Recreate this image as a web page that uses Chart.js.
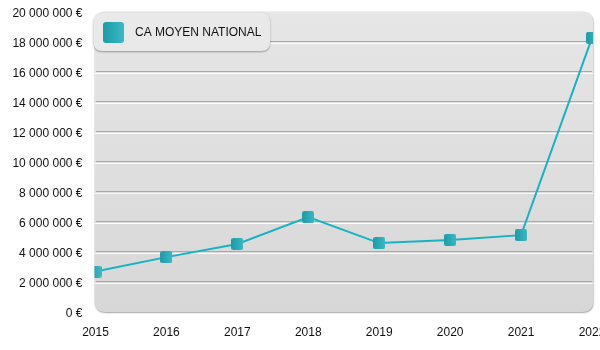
<!DOCTYPE html>
<html>
<head>
<meta charset="utf-8">
<script src="https://cdn.jsdelivr.net/npm/chart.js@4"></script>
<style>
  html, body { margin: 0; padding: 0; background: #fff; overflow: hidden; }
  #wrap { width: 600px; height: 350px; }
</style>
</head>
<body>
<div id="wrap"><canvas id="caChart"></canvas></div>
<script>
var annees = ['2015', '2016', '2017', '2018', '2019', '2020', '2021', '2022'];
var caMoyen = [2670000, 3630000, 4510000, 6310000, 4570000, 4780000, 5100000, 18270000];
var serieLabel = 'CA MOYEN NATIONAL';
var yMax = 20000000;
var yStep = 2000000;

var FONT = '"Liberation Sans", Arial, sans-serif';

function formatEuro(v) {
    return String(Math.round(v)).replace(/\B(?=(\d{3})+(?!\d))/g, ' ') + ' €';
}

function roundRect(ctx, x, y, w, h, r) {
    ctx.beginPath();
    ctx.moveTo(x + r, y);
    ctx.lineTo(x + w - r, y);
    ctx.quadraticCurveTo(x + w, y, x + w, y + r);
    ctx.lineTo(x + w, y + h - r);
    ctx.quadraticCurveTo(x + w, y + h, x + w - r, y + h);
    ctx.lineTo(x + r, y + h);
    ctx.quadraticCurveTo(x, y + h, x, y + h - r);
    ctx.lineTo(x, y + r);
    ctx.quadraticCurveTo(x, y, x + r, y);
    ctx.closePath();
}

function drawSquare(ctx, x, y, s, r) {
    var g = ctx.createLinearGradient(x, 0, x + s, 0);
    g.addColorStop(0, '#1c9ca8');
    g.addColorStop(1, '#3bb8c3');
    ctx.fillStyle = g;
    roundRect(ctx, x, y, s, s, r);
    ctx.fill();
}

// marqueur carré arrondi avec dégradé
var marker = document.createElement('canvas');
marker.width = 12;
marker.height = 12;
drawSquare(marker.getContext('2d'), 0, 0, 12, 2);

var panelPlugin = {
    id: 'panel',
    beforeDraw: function (chart) {
        var ctx = chart.ctx, a = chart.chartArea;
        ctx.save();
        var g = ctx.createLinearGradient(0, a.top, 0, a.bottom);
        g.addColorStop(0, '#e6e6e6');
        g.addColorStop(1, '#d7d7d7');
        ctx.shadowColor = 'rgba(0,0,0,0.35)';
        ctx.shadowOffsetY = 1;
        ctx.shadowOffsetX = 0.5;
        ctx.shadowBlur = 1.5;
        ctx.fillStyle = g;
        roundRect(ctx, a.left - 1, a.top - 0.5, a.right - a.left + 2, a.bottom - a.top + 1, 11);
        ctx.fill();
        ctx.restore();
    },
    beforeDatasetsDraw: function (chart) {
        // liseré blanc sous chaque ligne de grille
        var ctx = chart.ctx, a = chart.chartArea, y = chart.scales.y;
        ctx.save();
        ctx.strokeStyle = 'rgba(255,255,255,0.85)';
        ctx.lineWidth = 1;
        y.ticks.forEach(function (t) {
            if (t.value <= 0 || t.value >= yMax) return;
            var py = Math.round(y.getPixelForValue(t.value)) + 1.5;
            ctx.beginPath();
            ctx.moveTo(a.left - 1, py);
            ctx.lineTo(a.right + 1, py);
            ctx.stroke();
        });
        ctx.restore();
    },
    afterDraw: function (chart) {
        // légende
        var ctx = chart.ctx;
        ctx.save();
        ctx.shadowColor = 'rgba(0,0,0,0.35)';
        ctx.shadowOffsetY = 1;
        ctx.shadowBlur = 2;
        ctx.fillStyle = '#e9e9e9';
        roundRect(ctx, 93.5, 13, 176.5, 38, 9);
        ctx.fill();
        ctx.shadowColor = 'transparent';
        drawSquare(ctx, 103, 22, 21, 3);
        ctx.fillStyle = '#111';
        ctx.font = '12px ' + FONT;
        ctx.textBaseline = 'middle';
        ctx.fillText(chart.data.datasets[0].label, 135, 32.5);
        ctx.restore();
    }
};

new Chart(document.getElementById('caChart'), {
    type: 'line',
    data: {
        labels: annees,
        datasets: [{
            label: serieLabel,
            data: caMoyen,
            borderColor: '#17b2c4',
            borderWidth: 2,
            tension: 0,
            pointStyle: marker,
            pointRadius: 6,
            pointHoverRadius: 6,
            clip: { left: 1, right: 1, top: 10, bottom: 10 }
        }]
    },
    plugins: [panelPlugin],
    options: {
        responsive: true,
        maintainAspectRatio: false,
        animation: false,
        layout: { padding: { top: 12, right: 5.5, left: 0, bottom: 0 } },
        plugins: {
            legend: { display: false },
            tooltip: { enabled: false }
        },
        scales: {
            x: {
                offset: false,
                grid: { display: false, drawTicks: false },
                border: { display: false },
                ticks: {
                    color: '#111',
                    padding: 14,
                    maxRotation: 0,
                    autoSkip: false,
                    font: { family: FONT, size: 12 }
                },
                afterFit: function (s) {
                    s.paddingLeft = 0;
                    s.paddingRight = 0;
                    s.height = 38.5;
                }
            },
            y: {
                min: 0,
                max: yMax,
                grid: {
                    drawTicks: false,
                    lineWidth: 1,
                    color: function (c) {
                        var v = c.tick && c.tick.value;
                        return (v <= 0 || v >= yMax) ? 'rgba(0,0,0,0)' : '#a9a9a9';
                    }
                },
                border: { display: false },
                ticks: {
                    stepSize: yStep,
                    color: '#111',
                    padding: 13,
                    labelOffset: 2,
                    font: { family: FONT, size: 12 },
                    callback: function (v) { return formatEuro(v); }
                },
                afterFit: function (s) {
                    s.width = 95.5;
                    s.paddingTop = 0;
                    s.paddingBottom = 0;
                }
            }
        }
    }
});
</script>
</body>
</html>
